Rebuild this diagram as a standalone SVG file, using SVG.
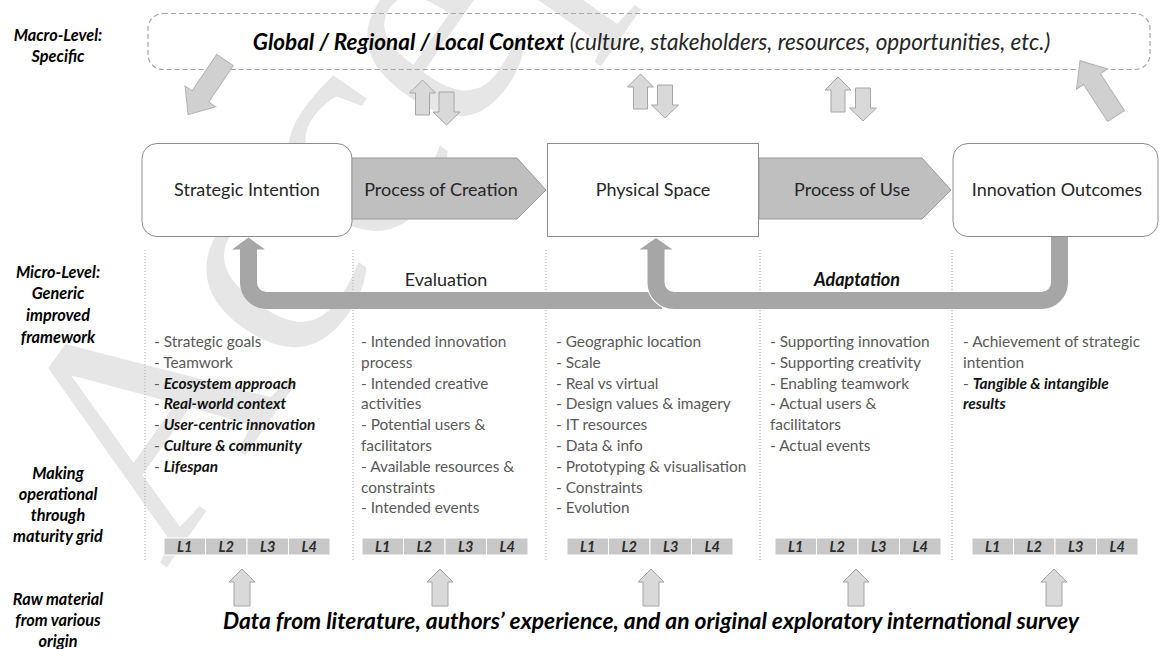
<svg xmlns="http://www.w3.org/2000/svg" width="1161" height="649" viewBox="0 0 1161 649">
<style>
.side{font-family:Lato,"Liberation Sans",sans-serif;font-weight:bold;font-style:italic;font-size:16.3px;fill:#000;text-anchor:middle}
.lbl{font-family:Lato,"Liberation Sans",sans-serif;font-size:18px;fill:#262626;text-anchor:middle}
.col{font-family:Lato,"Liberation Sans",sans-serif;font-size:15.4px;fill:#595959}
.bi{font-weight:bold;font-style:italic;fill:#111}
.box{fill:#fff;stroke:#8c8c8c;stroke-width:1}
.proc{fill:#bfbfbf;stroke:#9a9a9a;stroke-width:1}
.sarrow{fill:#d9d9d9;stroke:#a6a6a6;stroke-width:1}
.bigarrow{fill:#d0d0d0;stroke:#b3b3b3;stroke-width:1}
.vline{stroke:#a6a6a6;stroke-width:1;stroke-dasharray:1 2}
.band{fill:none;stroke:#a6a6a6;stroke-width:17}
.cell{fill:#c8c8c8;stroke:#fff;stroke-width:1}
.lv{font-family:Lato,"Liberation Sans",sans-serif;font-weight:bold;font-style:italic;font-size:14.5px;fill:#2b2b2b;text-anchor:middle}
</style>
<defs>
<polygon id="upA" points="-7,35 -7,13 -13,13 0,0 13,13 7,13 7,35"/>
<polygon id="dnA" points="-7.5,0 -7.5,20 -13.5,20 0,33 13.5,20 7.5,20 7.5,0"/>
<polygon id="bigA" points="0,-10 44,-10 44,-18.5 66,0 44,18.5 44,10 0,10"/>
<polygon id="botA" points="-8,37 -8,13 -13,13 0,0 13,13 8,13 8,37"/>
<g id="grid">
<rect class="cell" x="0" y="0" width="41.5" height="17"/>
<rect class="cell" x="41.5" y="0" width="41.5" height="17"/>
<rect class="cell" x="83" y="0" width="41.5" height="17"/>
<rect class="cell" x="124.5" y="0" width="41.5" height="17"/>
<text class="lv" x="20.75" y="14">L1</text>
<text class="lv" x="62.25" y="14">L2</text>
<text class="lv" x="103.75" y="14">L3</text>
<text class="lv" x="145.25" y="14">L4</text>
</g>
</defs>

<g id="watermark">
<text x="165" y="570" transform="rotate(-55 165 570)" font-family="'Liberation Serif',serif" font-size="320" fill="#e6e6e6">Accepted</text>
</g>

<g id="side-labels">
<text class="side" x="58" y="41">Macro-Level:</text>
<text class="side" x="58" y="62">Specific</text>
<text class="side" x="58" y="278">Micro-Level:</text>
<text class="side" x="58" y="299">Generic</text>
<text class="side" x="58" y="321">improved</text>
<text class="side" x="58" y="343">framework</text>
<text class="side" x="58" y="479">Making</text>
<text class="side" x="58" y="500">operational</text>
<text class="side" x="58" y="521">through</text>
<text class="side" x="58" y="542">maturity grid</text>
<text class="side" x="58" y="605">Raw material</text>
<text class="side" x="58" y="626">from various</text>
<text class="side" x="58" y="647">origin</text>
</g>

<g id="context">
<rect x="148" y="13.5" width="1002" height="56" rx="15" fill="none" stroke="#a6a6a6" stroke-width="1.2" stroke-dasharray="5 3"/>
<text x="651.5" y="50" text-anchor="middle" font-family="Lato,'Liberation Sans',sans-serif" font-size="22.5" font-style="italic" fill="#262626"><tspan font-weight="bold" fill="#000">Global / Regional / Local Context</tspan> (culture, stakeholders, resources, opportunities, etc.)</text>
</g>

<g id="column-lines">
<line class="vline" x1="145" y1="250" x2="145" y2="560"/>
<line class="vline" x1="353" y1="250" x2="353" y2="560"/>
<line class="vline" x1="546" y1="250" x2="546" y2="560"/>
<line class="vline" x1="760" y1="250" x2="760" y2="560"/>
<line class="vline" x1="952" y1="250" x2="952" y2="560"/>
</g>

<g id="node-strategic">
<rect class="box" x="142" y="143.5" width="210" height="93" rx="15"/>
<text class="lbl" x="247" y="196">Strategic Intention</text>
</g>
<g id="node-creation">
<polygon class="proc" points="352,158 517,158 546,190 517,219 352,219"/>
<text class="lbl" x="441" y="196">Process of Creation</text>
</g>
<g id="node-physical">
<rect class="box" x="547.5" y="143.5" width="211" height="93"/>
<text class="lbl" x="653" y="196">Physical Space</text>
</g>
<g id="node-use">
<polygon class="proc" points="759,158 922,158 951,190 922,219 759,219"/>
<text class="lbl" x="852" y="196">Process of Use</text>
</g>
<g id="node-outcomes">
<rect class="box" x="953" y="143.5" width="205" height="93" rx="15"/>
<text class="lbl" x="1057" y="196">Innovation Outcomes</text>
</g>

<g id="connectors">
<use href="#bigA" class="bigarrow" transform="translate(225,60) rotate(124)"/>
<use href="#bigA" class="bigarrow" transform="translate(1116,116) rotate(-123)"/>
<use href="#upA" class="sarrow" x="422.5" y="80"/>
<use href="#dnA" class="sarrow" x="446.5" y="92"/>
<use href="#upA" class="sarrow" x="640.5" y="74"/>
<use href="#dnA" class="sarrow" x="665" y="85"/>
<use href="#upA" class="sarrow" x="838" y="77"/>
<use href="#dnA" class="sarrow" x="863" y="88"/>
<path class="band" d="M 662 300.5 H 266 A 18 18 0 0 1 248.5 282.5 V 249"/>
<polygon points="232,249.5 265,249.5 248.5,237.5" fill="#a6a6a6"/>
<path d="M 1059.5 237 V 282.5 A 18 18 0 0 1 1041.5 300.5 H 674 A 18 18 0 0 1 656 282.5 V 249" fill="none" stroke="#fff" stroke-width="19"/>
<path class="band" d="M 1059.5 237 V 282.5 A 18 18 0 0 1 1041.5 300.5 H 674 A 18 18 0 0 1 656 282.5 V 249"/>
<polygon points="639.5,249.5 672.5,249.5 656,238" fill="#a6a6a6"/>
<use href="#botA" class="sarrow" x="242" y="569"/>
<use href="#botA" class="sarrow" x="440" y="569"/>
<use href="#botA" class="sarrow" x="651" y="569"/>
<use href="#botA" class="sarrow" x="856" y="569"/>
<use href="#botA" class="sarrow" x="1054" y="569"/>
</g>

<g id="feedback-labels">
<text x="446" y="286" text-anchor="middle" font-family="Lato,'Liberation Sans',sans-serif" font-size="18" fill="#262626">Evaluation</text>
<text x="857" y="286" text-anchor="middle" font-family="Lato,'Liberation Sans',sans-serif" font-size="18" font-weight="bold" font-style="italic" fill="#111">Adaptation</text>
</g>

<g id="col-strategic">
<text class="col" x="154" y="347">- Strategic goals</text>
<text class="col" x="154" y="367.8">- Teamwork</text>
<text class="col" x="154" y="388.6">- <tspan class="bi">Ecosystem approach</tspan></text>
<text class="col" x="154" y="409.4">- <tspan class="bi">Real-world context</tspan></text>
<text class="col" x="154" y="430.2">- <tspan class="bi">User-centric innovation</tspan></text>
<text class="col" x="154" y="451">- <tspan class="bi">Culture &amp; community</tspan></text>
<text class="col" x="154" y="471.8">- <tspan class="bi">Lifespan</tspan></text>
</g>
<g id="col-creation">
<text class="col" x="361" y="347">- Intended innovation</text>
<text class="col" x="361" y="367.8">process</text>
<text class="col" x="361" y="388.6">- Intended creative</text>
<text class="col" x="361" y="409.4">activities</text>
<text class="col" x="361" y="430.2">- Potential users &amp;</text>
<text class="col" x="361" y="451">facilitators</text>
<text class="col" x="361" y="471.8">- Available resources &amp;</text>
<text class="col" x="361" y="492.6">constraints</text>
<text class="col" x="361" y="513.4">- Intended events</text>
</g>
<g id="col-physical">
<text class="col" x="556" y="347">- Geographic location</text>
<text class="col" x="556" y="367.8">- Scale</text>
<text class="col" x="556" y="388.6">- Real vs virtual</text>
<text class="col" x="556" y="409.4">- Design values &amp; imagery</text>
<text class="col" x="556" y="430.2">- IT resources</text>
<text class="col" x="556" y="451">- Data &amp; info</text>
<text class="col" x="556" y="471.8">- Prototyping &amp; visualisation</text>
<text class="col" x="556" y="492.6">- Constraints</text>
<text class="col" x="556" y="513.4">- Evolution</text>
</g>
<g id="col-use">
<text class="col" x="770" y="347">- Supporting innovation</text>
<text class="col" x="770" y="367.8">- Supporting creativity</text>
<text class="col" x="770" y="388.6">- Enabling teamwork</text>
<text class="col" x="770" y="409.4">- Actual users &amp;</text>
<text class="col" x="770" y="430.2">facilitators</text>
<text class="col" x="770" y="451">- Actual events</text>
</g>
<g id="col-outcomes">
<text class="col" x="963" y="347">- Achievement of strategic</text>
<text class="col" x="963" y="367.8">intention</text>
<text class="col" x="963" y="388.6">- <tspan class="bi">Tangible &amp; intangible</tspan></text>
<text class="col" x="963" y="409.4"><tspan class="bi">results</tspan></text>
</g>

<g id="grids">
<use href="#grid" x="164" y="538"/>
<use href="#grid" x="362" y="538"/>
<use href="#grid" x="567" y="538"/>
<use href="#grid" x="775" y="538"/>
<use href="#grid" x="972" y="538"/>
</g>

<g id="source">
<text x="651" y="629" text-anchor="middle" font-family="Lato,'Liberation Sans',sans-serif" font-size="22.8" font-weight="bold" font-style="italic" fill="#000">Data from literature, authors’ experience, and an original exploratory international survey</text>
</g>
</svg>
